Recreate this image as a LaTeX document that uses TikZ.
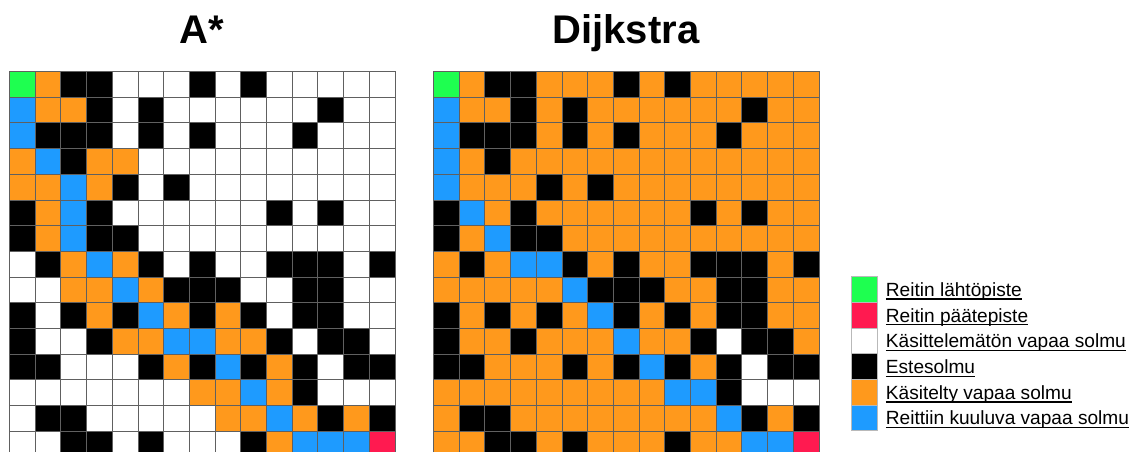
\documentclass[tikz,border=0pt]{standalone}
\usepackage{fontspec}
\setmainfont{Liberation Sans}
\usepackage{xcolor}
\usepackage{tikz}
\usetikzlibrary{positioning}
\definecolor{cellG}{HTML}{1EFF50}
\definecolor{cellR}{HTML}{FF1A50}
\definecolor{cellO}{HTML}{FF991C}
\definecolor{cellU}{HTML}{1E9BFF}
\definecolor{cellB}{HTML}{000000}
\definecolor{cellW}{HTML}{FFFFFF}
\definecolor{gridGray}{HTML}{606060}
\newcommand{\cellsize}{25.7}
\newsavebox{\legbox}
\newcommand{\legul}[1]{\sbox{\legbox}{#1}\rlap{\rule[-3.4pt]{\wd\legbox}{1.3pt}}\usebox{\legbox}}
\tikzset{
    grid_cell/.style={draw=gridGray, line width=0.9pt},
    title_lbl/.style={font=\fontsize{40}{44}\selectfont\bfseries, anchor=base, inner sep=0pt},
    leg_swatch/.style={draw=gray!55, line width=0.8pt, minimum width=25.6pt, minimum height=\cellsize pt, inner sep=0pt},
    leg_lbl/.style={font=\fontsize{19.1}{22}\selectfont, anchor=base west, inner sep=0pt}
}
% one 15x15 search grid, #1 = left edge, #2 = rows of cell codes
\newcommand{\searchgrid}[2]{%
    \foreach \rowcells [count=\r from 0] in {#2} {
        \foreach \cellc [count=\k from 0] in \rowcells {
            \filldraw[grid_cell, fill=cell\cellc] ({#1+\k*\cellsize}, {71.5+\r*\cellsize}) rectangle ++(\cellsize, \cellsize);
        }
    }%
}
\begin{document}
\begin{tikzpicture}[x=1pt, y=-1pt]
    \clip (0,0) rectangle (1136,452);
    \fill[white] (0,0) rectangle (1136,452);

    % Titles
    \node[title_lbl] (title_astar) at (202, 43.5) {A*};
    \node[title_lbl] (title_dijkstra) at (626, 43.5) {Dijkstra};

    % A* grid
    \searchgrid{9.5}{
        {G,O,B,B,W,W,W,B,W,B,W,W,W,W,W},
        {U,O,O,B,W,B,W,W,W,W,W,W,B,W,W},
        {U,B,B,B,W,B,W,B,W,W,W,B,W,W,W},
        {O,U,B,O,O,W,W,W,W,W,W,W,W,W,W},
        {O,O,U,O,B,W,B,W,W,W,W,W,W,W,W},
        {B,O,U,B,W,W,W,W,W,W,B,W,B,W,W},
        {B,O,U,B,B,W,W,W,W,W,W,W,W,W,W},
        {W,B,O,U,O,B,W,B,W,W,B,B,B,W,B},
        {W,W,O,O,U,O,B,B,B,W,W,B,B,W,W},
        {B,W,B,O,B,U,O,B,O,B,W,B,B,W,W},
        {B,W,W,B,O,O,U,U,O,O,B,W,B,B,W},
        {B,B,W,W,W,B,O,B,U,B,O,B,W,B,B},
        {W,W,W,W,W,W,W,O,O,U,O,B,W,W,W},
        {W,B,B,W,W,W,W,W,O,O,U,O,B,O,B},
        {W,W,B,B,W,B,W,W,W,B,O,U,U,U,R}}

    % Dijkstra grid
    \searchgrid{433.5}{
        {G,O,B,B,O,O,O,B,O,B,O,O,O,O,O},
        {U,O,O,B,O,B,O,O,O,O,O,O,B,O,O},
        {U,B,B,B,O,B,O,B,O,O,O,B,O,O,O},
        {U,O,B,O,O,O,O,O,O,O,O,O,O,O,O},
        {U,O,O,O,B,O,B,O,O,O,O,O,O,O,O},
        {B,U,O,B,O,O,O,O,O,O,B,O,B,O,O},
        {B,O,U,B,B,O,O,O,O,O,O,O,O,O,O},
        {O,B,O,U,U,B,O,B,O,O,B,B,B,O,B},
        {O,O,O,O,O,U,B,B,B,O,O,B,B,O,O},
        {B,O,B,O,B,O,U,B,O,B,O,B,B,O,O},
        {B,O,O,B,O,O,O,U,O,O,B,W,B,B,O},
        {B,B,O,O,O,B,O,B,U,B,O,B,W,B,B},
        {O,O,O,O,O,O,O,O,O,U,U,B,W,W,W},
        {O,B,B,O,O,O,O,O,O,O,O,U,B,O,B},
        {O,O,B,B,O,B,O,O,O,B,O,O,U,U,R}}

    % Legend
    \foreach \sw/\txt [count=\i from 0] in {
        G/Reitin lähtöpiste,
        R/Reitin päätepiste,
        W/Käsittelemätön vapaa solmu,
        B/Estesolmu,
        O/Käsitelty vapaa solmu,
        U/Reittiin kuuluva vapaa solmu} {
        \node[leg_swatch, fill=cell\sw] (leg_\i) at (864.5, {289.5+\i*\cellsize}) {};
        \node[leg_lbl] (leg_txt_\i) at (885.7, {296.3+\i*\cellsize}) {\legul{\txt}};
    }
\end{tikzpicture}
\end{document}
